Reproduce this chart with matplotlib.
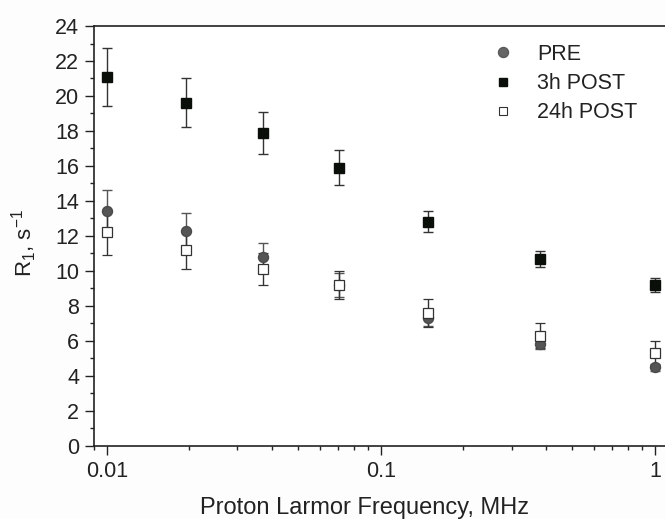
import numpy as np
import matplotlib.pyplot as plt
from matplotlib.lines import Line2D
from matplotlib.ticker import MultipleLocator, FixedLocator, FixedFormatter

plt.rcParams['font.family'] = ['Liberation Sans', 'DejaVu Sans']
plt.rcParams['mathtext.fontset'] = 'custom'
plt.rcParams['mathtext.rm'] = 'Liberation Sans'
plt.rcParams['mathtext.it'] = 'Liberation Sans'

freq = [0.01, 0.0195, 0.0372, 0.0705, 0.149, 0.381, 1.0]

pre = [13.4, 12.3, 10.8, 9.2, 7.3, 5.8, 4.5]
pre_err = [1.2, 1.0, 0.8, 0.7, 0.45, 0.25, 0.2]

post3h = [21.1, 19.6, 17.9, 15.9, 12.8, 10.7, 9.2]
post3h_err = [1.65, 1.4, 1.2, 1.0, 0.6, 0.45, 0.4]

post24h = [12.2, 11.2, 10.1, 9.2, 7.6, 6.3, 5.3]
post24h_err = [1.3, 1.1, 0.9, 0.8, 0.8, 0.7, 0.7]

fig = plt.figure(figsize=(6.65, 5.19), dpi=100)
ax = fig.add_axes([0.1414, 0.1407, 0.8586, 0.8092])

ekw = dict(capsize=3.6, elinewidth=1, capthick=1, linestyle='none')
ax.errorbar(freq, pre, yerr=pre_err, marker='o', ms=7.2, mfc='#555555', mec='#4a4a4a',
            ecolor='#555555', **ekw)
ax.errorbar(freq, post3h, yerr=post3h_err, marker='s', ms=6.8, mfc='#0a0f0a', mec='#0a0f0a',
            ecolor='#333333', **ekw)
ax.errorbar(freq, post24h, yerr=post24h_err, marker='s', ms=6.8, mfc='white', mec='#333333',
            mew=0.9, ecolor='#333333', **ekw)

ax.set_xscale('log')
ax.set_xlim(0.00899, 1.088)
ax.set_ylim(0, 24)
ax.yaxis.set_major_locator(MultipleLocator(2))
ax.yaxis.set_minor_locator(MultipleLocator(1))
ax.xaxis.set_major_locator(FixedLocator([0.01, 0.1, 1]))
ax.xaxis.set_major_formatter(FixedFormatter(['0.01', '0.1', '1']))

ax.tick_params(axis='both', which='major', direction='out', length=6.5, width=1,
               labelsize=15.5, colors='#222222', pad=4.3)
ax.tick_params(axis='both', which='minor', direction='out', length=3.2, width=1,
               colors='#222222')
ax.spines['right'].set_visible(False)
for s in ['left', 'bottom', 'top']:
    ax.spines[s].set_linewidth(1.2)
    ax.spines[s].set_color('#222222')

ax.set_xlabel('Proton Larmor Frequency, MHz', fontsize=17, color='#222222')
ax.xaxis.set_label_coords(0.473, -0.121)
ax.set_ylabel('R$_1$, s$^{-1}$', fontsize=16, color='#222222')
ax.yaxis.set_label_coords(-0.097, 0.483)

handles = [
    Line2D([], [], linestyle='none', marker='o', ms=7.2, mfc='#666666', mec='#5a5a5a'),
    Line2D([], [], linestyle='none', marker='s', ms=6.4, mfc='#0a0f0a', mec='#0a0f0a'),
    Line2D([], [], linestyle='none', marker='s', ms=5.2, mfc='white', mec='#333333', mew=0.8),
]
labels = ['PRE', '3h POST', '24h POST']
fig.legend(handles, labels, loc='upper left', bbox_to_anchor=(0.727, 0.932), frameon=False,
           fontsize=15.5, handlelength=1.0, handletextpad=1.08, labelspacing=0.38,
           borderaxespad=0, borderpad=0.4, labelcolor='#222222')

fig.savefig('out.png', dpi=100, facecolor='#fdfdfd')
